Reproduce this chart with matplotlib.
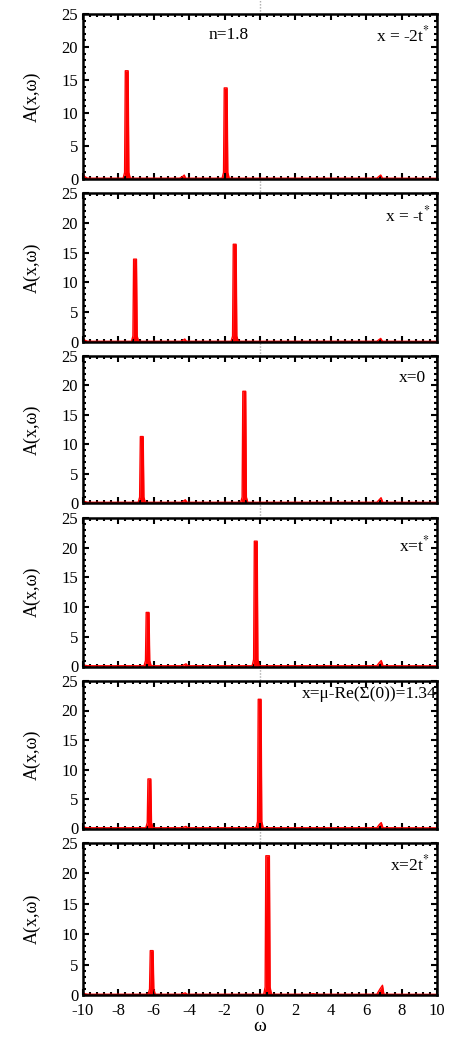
#!/usr/bin/env python3
"""Spectral function A(x, w) for six values of x, n = 1.8."""

import matplotlib
matplotlib.use("Agg")
import matplotlib.pyplot as plt
from matplotlib.lines import Line2D
from matplotlib.ticker import MultipleLocator

plt.rcParams["font.family"] = ["Liberation Serif", "DejaVu Serif"]
plt.rcParams["mathtext.fontset"] = "stix"
plt.rcParams["axes.unicode_minus"] = False

# spectra, one (omega, A) list pair per panel
omega_m2t = [-10.0, -9.9, -9.75, -7.73, -7.65, -7.61, -7.45, -7.41, -7.33, -4.55, -4.38, -4.28, -4.2,
             -2.14, -2.06, -2.02, -1.86, -1.82, -1.74, 6.6, 6.75, 6.82, 6.92, 10.0]
spec_m2t = [0.9, 0.35, 0.12, 0.12, 1.0, 16.4, 16.4, 1.0, 0.12, 0.12, 0.35, 0.6, 0.12,
            0.12, 1.0, 13.8, 13.8, 1.0, 0.12, 0.12, 0.45, 0.6, 0.12, 0.1]

omega_m1t = [-10.0, -9.9, -9.75, -7.26, -7.18, -7.14, -6.98, -6.94, -6.86, -4.5, -4.35, -4.25, -4.15,
             -1.63, -1.55, -1.51, -1.35, -1.31, -1.23, 6.6, 6.75, 6.82, 6.92, 10.0]
spec_m1t = [0.7, 0.3, 0.12, 0.12, 1.0, 13.9, 13.9, 1.0, 0.12, 0.12, 0.3, 0.5, 0.12,
            0.12, 1.0, 16.4, 16.4, 1.0, 0.12, 0.12, 0.45, 0.6, 0.12, 0.1]

omega_0 = [-10.0, -9.9, -9.75, -6.88, -6.8, -6.76, -6.6, -6.56, -6.48, -4.45, -4.32, -4.22, -4.12,
           -1.09, -1.01, -0.97, -0.81, -0.77, -0.69, 6.6, 6.75, 6.84, 6.94, 10.0]
spec_0 = [0.5, 0.25, 0.12, 0.12, 1.0, 11.3, 11.3, 1.0, 0.12, 0.12, 0.35, 0.55, 0.12,
          0.12, 1.0, 19.0, 19.0, 1.0, 0.12, 0.12, 0.6, 0.9, 0.12, 0.1]

omega_1t = [-10.0, -9.9, -9.75, -6.55, -6.47, -6.43, -6.27, -6.23, -6.15, -4.4, -4.28, -4.18, -4.08,
            -0.44, -0.36, -0.32, -0.16, -0.12, -0.04, 6.6, 6.75, 6.85, 6.95, 10.0]
spec_1t = [0.4, 0.2, 0.12, 0.12, 1.0, 9.1, 9.1, 1.0, 0.12, 0.12, 0.3, 0.45, 0.12,
           0.12, 1.2, 21.1, 21.1, 1.2, 0.12, 0.12, 0.7, 1.0, 0.12, 0.1]

omega_mu = [-10.0, -9.9, -9.75, -6.45, -6.37, -6.33, -6.17, -6.13, -6.05, -4.4, -4.28, -4.18, -4.08,
            -0.22, -0.14, -0.1, 0.06, 0.1, 0.18, 6.6, 6.75, 6.85, 6.95, 10.0]
spec_mu = [0.4, 0.2, 0.12, 0.12, 1.0, 8.4, 8.4, 1.0, 0.12, 0.12, 0.25, 0.35, 0.12,
           0.12, 1.2, 21.9, 21.9, 1.2, 0.12, 0.12, 0.7, 1.0, 0.12, 0.1]

omega_2t = [-10.0, -9.9, -9.75, -6.32, -6.24, -6.2, -6.04, -6.0, -5.92, -4.45, -4.32, -4.22, -4.12,
            0.21, 0.29, 0.33, 0.53, 0.57, 0.65, 2.8, 3.0, 3.2, 6.6, 6.78, 6.92, 7.0, 10.0]
spec_2t = [0.4, 0.2, 0.12, 0.12, 1.0, 7.3, 7.3, 1.0, 0.12, 0.12, 0.25, 0.35, 0.12,
           0.12, 1.3, 22.9, 22.9, 1.3, 0.12, 0.12, 0.22, 0.12, 0.12, 1.0, 1.6, 0.12, 0.1]

omegas = [omega_m2t, omega_m1t, omega_0, omega_1t, omega_mu, omega_2t]
spectra = [spec_m2t, spec_m1t, spec_0, spec_1t, spec_mu, spec_2t]
labels = [r"x = -2t$^{*}$", r"x = -t$^{*}$", "x=0", r"x=t$^{*}$",
          "x=μ-Re(Σ(0))=1.34", r"x=2t$^{*}$"]
label_pos = [(9.6, 21.8), (9.6, 21.3), (9.4, 21.3), (9.6, 20.4), (9.95, 22.8), (9.6, 21.4)]

W, H = 457, 1038
LEFT, RIGHT = 83, 437
TOPS = [14, 193, 356, 518, 681, 843]
BOTTOMS = [179, 342, 503, 666.5, 828.5, 995]


def main() -> None:
    fig = plt.figure(figsize=(W / 100, H / 100), dpi=100)
    axes = []
    for i, (w, a) in enumerate(zip(omegas, spectra)):
        ax = fig.add_axes([LEFT / W, 1 - BOTTOMS[i] / H, (RIGHT - LEFT) / W,
                           (BOTTOMS[i] - TOPS[i]) / H])
        ax.fill_between(w, a, 0, color="red", linewidth=0)
        ax.plot(w, a, color="red", linewidth=1.0)
        ax.set_xlim(-10, 10)
        ax.set_ylim(0, 25)
        ax.xaxis.set_major_locator(MultipleLocator(2))
        ax.xaxis.set_minor_locator(MultipleLocator(0.4))
        ax.yaxis.set_major_locator(MultipleLocator(5))
        ax.yaxis.set_minor_locator(MultipleLocator(1))
        ax.tick_params(which="both", direction="in", top=True, right=True, width=1.5)
        ax.tick_params(which="major", length=4.5, labelsize=12)
        ax.tick_params(axis="x", which="major", pad=6)
        ax.tick_params(which="minor", length=2.2)
        for s in ax.spines.values():
            s.set_linewidth(1.8)
        ax.set_ylabel("A(x,ω)", fontsize=13)
        ax.yaxis.set_label_coords(-0.12, 0.5)
        if i < 5:
            ax.tick_params(labelbottom=False)
        tx, ty = label_pos[i]
        ax.text(tx, ty, labels[i], ha="right", va="center", fontsize=12.5)
        axes.append(ax)

    axes[0].text(-1.75, 21.8, "n=1.8", ha="center", va="center", fontsize=12.5)
    axes[-1].set_xlabel("ω", fontsize=14, labelpad=-1)

    # dotted line at omega = 0 running through all panels
    fig.canvas.draw()
    x0 = fig.transFigure.inverted().transform(axes[0].transData.transform((0, 0)))[0]
    y_bot = fig.transFigure.inverted().transform(axes[-1].transData.transform((0, 0)))[1]
    fig.add_artist(Line2D([x0, x0], [y_bot, 1.0], transform=fig.transFigure,
                          color="#aaaaaa", linestyle=(0, (1, 1.2)), linewidth=1.0, zorder=0))

    fig.savefig("out.png", dpi=100)
    plt.close(fig)


if __name__ == "__main__":
    main()
